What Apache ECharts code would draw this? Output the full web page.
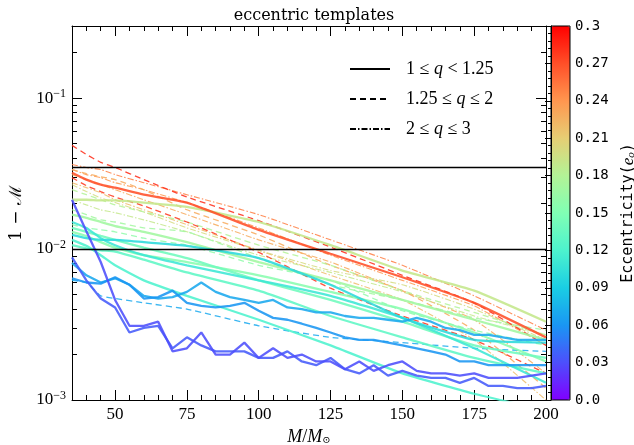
<!DOCTYPE html>
<html><head><meta charset="utf-8">
<script src="https://cdn.jsdelivr.net/npm/echarts@6/dist/echarts.min.js"></script>
<style>html,body{margin:0;padding:0;background:#fff}#c{width:634px;height:445px}</style>
</head><body><div id="c"></div>
<script>
// ---------------- data ----------------
const X_FINE = [35,40,45,50,55,60,65,70,75,80,85,90,95,100,105,110,115,120,125,130,135,140,145,150,155,160,165,170,175,180,185,190,195,200];
const X_COARSE = [35,40,45,50,60,75,100,125,150,175,200];
const X_TICKS = [50,75,100,125,150,175,200];
const Y_TICKS = [0.001,0.01,0.1];
const Y_MINOR = [0.002,0.003,0.004,0.005,0.006,0.007,0.008,0.009,0.02,0.03,0.04,0.05,0.06,0.07,0.08,0.09,0.2,0.3];
const H_LINES = [0.035, 0.01];
const LEGEND_LABELS = ['1 ≤ q < 1.25', '1.25 ≤ q ≤ 2', '2 ≤ q ≤ 3'];
const LEGEND_STYLES = ['solid', 'dashed', 'dashdot'];
const E_RANGE = [0, 0.3];

// solid (1 <= q < 1.25)
const S_ORANGE = [0.032,0.0288,0.0267,0.0255,0.0229,0.0203,0.0134,0.0093,0.0065,0.0044,0.0026];
const S_GREEN  = [0.0212,0.0212,0.021,0.021,0.0203,0.019,0.0151,0.0106,0.0072,0.0053,0.0033];
const S_G17    = [0.0169,0.0161,0.0151,0.0142,0.0130,0.0111,0.0082,0.0062,0.0046,0.0034,0.0025];
const S_G155   = [0.0130,0.0122,0.0111,0.0102,0.0091,0.0082,0.0067,0.0052,0.0040,0.0028,0.0018];
const S_T14    = [0.0138,0.0130,0.0122,0.0115,0.0102,0.0087,0.0062,0.0046,0.0033,0.0023,0.0019];
const S_T13    = [0.0106,0.0101,0.0098,0.0096,0.0085,0.0070,0.0053,0.0036,0.0026,0.0019,0.0015];
const S_T12    = [0.0115,0.0105,0.0091,0.0078,0.0062,0.0049,0.0034,0.0023,0.0015,0.0011,0.00085];
const S_T11    = [0.0151,0.0138,0.0118,0.0106,0.0091,0.0078,0.0062,0.0049,0.0035,0.0022,0.0013];
const S_T10    = [0.0124,0.0118,0.0115,0.0115,0.0111,0.0105,0.0087,0.0058,0.0035,0.0025,0.0024];
const S_BLUE_C = [0.0081,0.0067,0.0060,0.0064,0.0058,0.0049,0.0047,0.0048,0.0052,0.0060,0.0052,0.0048,0.0046,0.0044,0.0046,0.0041,0.0040,0.0038,0.0038,0.0036,0.0035,0.0035,0.0034,0.0033,0.0035,0.0033,0.0030,0.0029,0.0027,0.0027,0.0026,0.0025,0.0025,0.0025];
const S_BLUE_D = [0.0064,0.0060,0.0059,0.0065,0.0058,0.0047,0.0048,0.0053,0.0044,0.0042,0.0041,0.0042,0.0044,0.0039,0.0035,0.0034,0.0032,0.0030,0.0028,0.0026,0.0025,0.0025,0.0024,0.0023,0.0022,0.0021,0.0020,0.0018,0.0018,0.0017,0.0017,0.0017,0.0017,0.0017];
const S_PURP_A = [0.0212,0.0131,0.0082,0.0046,0.0031,0.0031,0.0033,0.0021,0.0022,0.0028,0.0020,0.0020,0.0024,0.0019,0.0022,0.0019,0.0020,0.0018,0.0018,0.0016,0.0018,0.00156,0.0017,0.0018,0.00156,0.0015,0.0015,0.00145,0.0015,0.0014,0.0014,0.0014,0.00145,0.0015];
const S_PURP_B = [0.0088,0.0062,0.0047,0.0041,0.0028,0.0030,0.0031,0.0022,0.0026,0.0023,0.0021,0.0021,0.0021,0.0019,0.0019,0.0021,0.0018,0.0017,0.0019,0.0016,0.0015,0.0017,0.00145,0.00156,0.00145,0.0014,0.0014,0.0013,0.0014,0.00124,0.00124,0.0012,0.0012,0.00124];

// dashed (1.25 <= q <= 2)
const D_RED_HI = [0.0486,0.0423,0.0375,0.0347,0.0288,0.0221,0.0154,0.0103,0.0067,0.0044,0.0023];
const D_RED_LO = [0.0297,0.0263,0.024,0.0221,0.0193,0.0151,0.0095,0.0055,0.0036,0.0025,0.0015];
const D_ORANGE = [0.0336,0.0316,0.0301,0.0288,0.0247,0.0182,0.0124,0.0078,0.0053,0.0029,0.0012];
const D_G18    = [0.0247,0.0229,0.0212,0.0196,0.0176,0.0151,0.0106,0.0078,0.0053,0.0038,0.0027];
const D_G17    = [0.0182,0.0169,0.0156,0.0151,0.0138,0.0130,0.0087,0.0058,0.0046,0.0035,0.0029];
const D_G16    = [0.0145,0.0138,0.0134,0.0130,0.0118,0.0106,0.0078,0.0062,0.0039,0.0029,0.0023];
const D_BLUE   = [0.0062,0.0060,0.0049,0.0047,0.0044,0.0040,0.0031,0.0026,0.0024,0.0022,0.0021];

// dash-dot (2 <= q <= 3)
const DD_25 = [0.0363,0.0347,0.0336,0.0311,0.0275,0.0229,0.0169,0.0115,0.0078,0.0049,0.0029];
const DD_24 = [0.0336,0.0311,0.0297,0.0275,0.0247,0.0203,0.0138,0.0091,0.0062,0.0042,0.0023];
const DD_23 = [0.0311,0.0288,0.0267,0.0247,0.0212,0.0169,0.0115,0.0082,0.0053,0.0034,0.0015];
const DD_22 = [0.0275,0.0255,0.0236,0.0212,0.0182,0.0145,0.0098,0.0067,0.0046,0.0025,0.0010];
const DD_20 = [0.0267,0.024,0.0218,0.0203,0.0176,0.0138,0.0098,0.0072,0.0058,0.0040,0.0025];
const DD_19 = [0.0212,0.0196,0.0182,0.0174,0.0156,0.0130,0.0091,0.0070,0.0052,0.0036,0.0027];

// lines: eccentricity, q-range style, x grid, values (drawing order)
const LINES = [
  {e:0.25, q:'dashdot', x:X_COARSE, v:DD_25},
  {e:0.24, q:'dashdot', x:X_COARSE, v:DD_24},
  {e:0.23, q:'dashdot', x:X_COARSE, v:DD_23},
  {e:0.22, q:'dashdot', x:X_COARSE, v:DD_22},
  {e:0.20, q:'dashdot', x:X_COARSE, v:DD_20},
  {e:0.19, q:'dashdot', x:X_COARSE, v:DD_19},
  {e:0.23, q:'dashed', x:X_COARSE, v:D_ORANGE},
  {e:0.18, q:'dashed', x:X_COARSE, v:D_G18},
  {e:0.17, q:'dashed', x:X_COARSE, v:D_G17},
  {e:0.16, q:'dashed', x:X_COARSE, v:D_G16},
  {e:0.28, q:'dashed', x:X_COARSE, v:D_RED_LO},
  {e:0.285, q:'dashed', x:X_COARSE, v:D_RED_HI},
  {e:0.07, q:'dashed', x:X_COARSE, v:D_BLUE},
  {e:0.17, q:'solid', x:X_COARSE, v:S_G17},
  {e:0.155, q:'solid', x:X_COARSE, v:S_G155},
  {e:0.14, q:'solid', x:X_COARSE, v:S_T14},
  {e:0.13, q:'solid', x:X_COARSE, v:S_T13},
  {e:0.12, q:'solid', x:X_COARSE, v:S_T12},
  {e:0.11, q:'solid', x:X_COARSE, v:S_T11},
  {e:0.10, q:'solid', x:X_COARSE, v:S_T10},
  {e:0.19, q:'solid', x:X_COARSE, v:S_GREEN},
  {e:0.27, q:'solid', x:X_COARSE, v:S_ORANGE},
  {e:0.07, q:'solid', x:X_FINE, v:S_BLUE_C},
  {e:0.06, q:'solid', x:X_FINE, v:S_BLUE_D},
  {e:0.035, q:'solid', x:X_FINE, v:S_PURP_B},
  {e:0.03, q:'solid', x:X_FINE, v:S_PURP_A}
];

// matplotlib "rainbow" colour stops
const RAINBOW = ['#8000ff','#4d4ffc','#1a96f3','#1acee3','#4df3ce','#80ffb4','#b3f396','#e6ce74','#ff964f','#ff4f28','#ff0000'];

// ---------------- styles ----------------
const SERIF = 'Liberation Serif';
const MONO = 'DejaVu Sans Mono';
const WIDTH = {solid: 2.3, dashed: 1.3, dashdot: 1.1};
const DASH = {solid: 'solid', dashed: [6, 4], dashdot: [6, 2, 1.5, 2]};
const OPAC = {solid: 0.88, dashed: 0.85, dashdot: 0.85};

function colorOf(e) {
  return echarts.color.lerp((e - E_RANGE[0]) / (E_RANGE[1] - E_RANGE[0]), RAINBOW);
}

const series = LINES.map((L, i) => ({
  type: 'line', xAxisIndex: 0, yAxisIndex: 0, symbol: 'none', silent: true,
  smooth: L.x === X_FINE ? false : 0.15,
  data: L.x.map((x, j) => [x, L.v[j]]),
  lineStyle: {color: colorOf(L.e), width: WIDTH[L.q], type: DASH[L.q], opacity: OPAC[L.q]},
  z: 2 + i * 0.01
}));

series[0].markLine = {
  silent: true, symbol: ['none', 'none'], label: {show: false}, animation: false, precision: 6,
  lineStyle: {color: '#000', width: 1.3, type: 'solid', opacity: 1},
  data: H_LINES.map(v => ({yAxis: v}))
};

LEGEND_LABELS.forEach((name, i) => {
  const q = LEGEND_STYLES[i];
  series.push({
    name, type: 'line', xAxisIndex: 0, yAxisIndex: 0, symbol: 'none', data: [],
    itemStyle: {color: '#000'},
    lineStyle: {color: '#000', width: q === 'solid' ? 2 : 1.1, type: DASH[q]}
  });
});

const black = {color: '#000', width: 1};
function xAx(pos, major) {
  return {
    type: 'value', gridIndex: 0, position: pos, min: 35, max: 200,
    interval: major ? undefined : 5,
    axisLine: {show: major, lineStyle: black},
    axisTick: major ? {show: true, inside: true, length: 10, customValues: X_TICKS, lineStyle: black}
                    : {show: true, inside: true, length: 5, lineStyle: black},
    axisLabel: (major && pos === 'bottom') ? {show: true, customValues: X_TICKS, color: '#000', fontFamily: SERIF, fontSize: 17, margin: 6} : {show: false},
    splitLine: {show: false},
    name: (major && pos === 'bottom') ? '{i|M}/{i|M}{s|⊙}' : '',
    nameLocation: 'middle', nameGap: 27,
    nameTextStyle: {color: '#000', fontFamily: SERIF, fontSize: 18,
      rich: {i: {fontFamily: SERIF, fontStyle: 'italic', fontSize: 18, color: '#000'},
             s: {fontFamily: 'DejaVu Serif', fontSize: 10, color: '#000', padding: [8, 0, 0, 0]}}}
  };
}
function yAx(pos, major) {
  return {
    type: 'log', logBase: 10, gridIndex: 0, position: pos, min: 0.001, max: 0.3,
    axisLine: {show: major, lineStyle: black},
    axisTick: {show: true, inside: true, length: major ? 10 : 5, customValues: major ? Y_TICKS : Y_MINOR, lineStyle: black},
    axisLabel: (major && pos === 'left') ? {
      show: true, customValues: Y_TICKS, color: '#000', fontFamily: SERIF, fontSize: 17, margin: 6,
      formatter: v => '10{s|−' + Math.abs(Math.round(Math.log10(v))) + '}',
      rich: {s: {fontFamily: SERIF, fontSize: 12, color: '#000', padding: [0, 0, 9, 0]}}
    } : {show: false},
    splitLine: {show: false}, minorTick: {show: false},
    name: (major && pos === 'left') ? '1 − ℳ' : '',
    nameLocation: 'middle', nameGap: 40, nameRotate: 90,
    nameTextStyle: {color: '#000', fontFamily: 'DejaVu Serif', fontSize: 17}
  };
}

const option = {
  animation: false,
  backgroundColor: '#fff',
  title: {
    text: 'eccentric templates', left: 309, top: 3, textAlign: 'center',
    textStyle: {color: '#000', fontFamily: 'DejaVu Serif', fontSize: 16, fontWeight: 'normal'}
  },
  grid: [
    {left: 72, top: 26, width: 474, height: 374, containLabel: false, outerBoundsMode: 'none'},
    {left: 551, top: 26, width: 19, height: 374, containLabel: false, outerBoundsMode: 'none', show: true, borderColor: '#000', borderWidth: 1, backgroundColor: 'transparent', z: 10}
  ],
  xAxis: [
    xAx('bottom', true), xAx('bottom', false), xAx('top', true), xAx('top', false),
    {type: 'value', gridIndex: 1, min: 0, max: 1, show: false}
  ],
  yAxis: [
    yAx('left', true), yAx('left', false), yAx('right', true), yAx('right', false),
    {
      type: 'value', gridIndex: 1, position: 'right', min: E_RANGE[0], max: E_RANGE[1], interval: 0.03, z: 10,
      axisLine: {show: true, lineStyle: black},
      axisTick: {show: true, inside: true, length: 6, lineStyle: black},
      minorTick: {show: true, splitNumber: 5, length: 3, lineStyle: black},
      axisLabel: {color: '#000', fontFamily: MONO, fontSize: 14, margin: 5,
        formatter: v => { const s = parseFloat(v.toFixed(2)).toString(); return s === '0' ? '0.0' : s; }},
      splitLine: {show: false},
      name: 'Eccentricity({e|e}{o|o})', nameLocation: 'middle', nameRotate: 90, nameGap: 50,
      nameTextStyle: {color: '#000', fontFamily: MONO, fontSize: 15,
        rich: {e: {fontFamily: SERIF, fontStyle: 'italic', fontSize: 17, color: '#000'},
               o: {fontFamily: SERIF, fontStyle: 'italic', fontSize: 11, color: '#000', padding: [6, 0, 0, 0]}}}
    }
  ],
  visualMap: [{
    type: 'continuous', min: E_RANGE[0], max: E_RANGE[1], seriesIndex: [], calculable: false,
    left: 551, top: 26, itemWidth: 19, itemHeight: 374, padding: 0, text: null, showLabel: false,
    hoverLink: false, inRange: {color: RAINBOW}, z: 4
  }],
  legend: {
    data: LEGEND_LABELS, orient: 'vertical', left: 344, top: 55, itemWidth: 40, itemHeight: 14, itemGap: 12,
    selectedMode: false,
    itemStyle: {opacity: 0},
    formatter: n => n.replace('q', '{i|q}'),
    textStyle: {color: '#000', fontFamily: SERIF, fontSize: 18, padding: [0, 0, 0, 11],
      rich: {i: {fontFamily: SERIF, fontStyle: 'italic', fontSize: 18, color: '#000'}}}
  },
  series
};

const chart = echarts.init(document.getElementById('c'), null, {renderer: 'canvas'});
chart.setOption(option);
</script></body></html>
